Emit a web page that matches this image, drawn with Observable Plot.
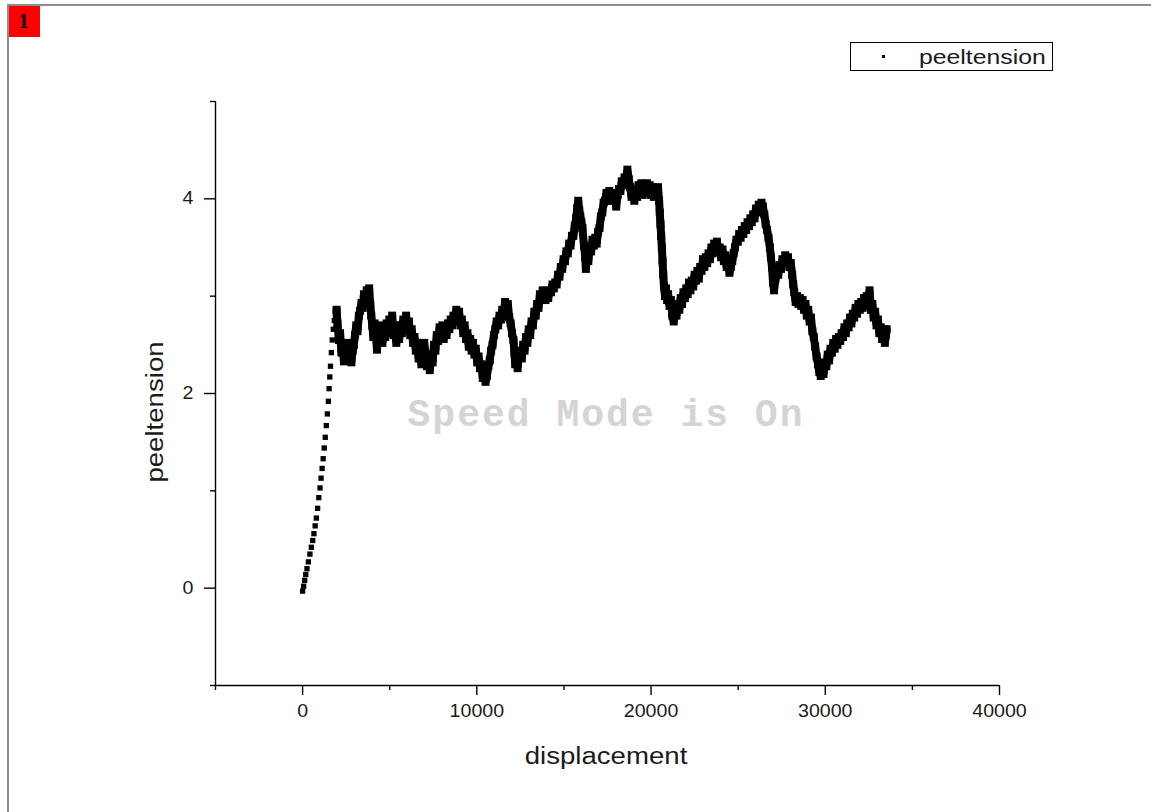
<!DOCTYPE html>
<html><head><meta charset="utf-8">
<script src="https://cdn.jsdelivr.net/npm/d3@7"></script>
<script src="https://cdn.jsdelivr.net/npm/@observablehq/plot@0.6"></script>
<style>
body{margin:0;background:#fff;width:1151px;height:812px;overflow:hidden;position:relative;font-family:"Liberation Sans",Arial,sans-serif;}
#frameTop{position:absolute;left:7px;top:4px;width:1144px;height:2px;background:#8c8c8c}
#frameLeft{position:absolute;left:7px;top:4px;width:2px;height:808px;background:#8c8c8c}
#badge{position:absolute;left:9px;top:6px;width:31px;height:31px;background:#ff0000;color:#000;font:bold 20px "Liberation Serif",serif;text-align:center;line-height:31px;text-indent:-2px}
#chart{position:absolute;left:0;top:0}
#legend{position:absolute;left:850px;top:42px;width:203px;height:29px;border:1px solid #000;box-sizing:border-box;background:#fff}
#legend .mk{position:absolute;left:31px;top:12px;width:3px;height:3px;background:#000}
#legend .tx{position:absolute;left:68px;top:1px;font-size:21px;line-height:25px;color:#1a1a1a;transform-origin:0 50%;transform:scaleX(1.18);white-space:nowrap}
#xtitle{position:absolute;left:606px;top:756px;transform:translate(-50%,-50%) scaleX(1.2);font-size:23px;color:#1a1a1a;white-space:nowrap}
#ytitle{position:absolute;left:155px;top:412px;transform:translate(-50%,-50%) rotate(-90deg) scaleX(1.2);font-size:23px;color:#1a1a1a;white-space:nowrap}
#wm{position:absolute;left:606px;top:415px;transform:translate(-50%,-50%);font:bold 38px "Liberation Mono","Courier New",monospace;letter-spacing:2px;color:#d4d4d4;white-space:nowrap}
</style></head>
<body>
<div id="frameTop"></div><div id="frameLeft"></div>
<div id="badge">1</div>
<div id="chart"></div>
<div id="wm">Speed Mode is On</div>
<div id="legend"><div class="mk"></div><div class="tx">peeltension</div></div>
<div id="xtitle">displacement</div>
<div id="ytitle">peeltension</div>
<script>
const xMajorTicks = [0, 10000, 20000, 30000, 40000];
const xMinorTicks = [-5000, 5000, 15000, 25000, 35000];
const yMajorTicks = [0, 2, 4];
const yMinorTicks = [-1, 1, 3, 5];

const displacement = [
0,60,120,180,250,330,420,500,580,650,720,790,860,930,1000,1060,1120,1180,1240,1300,1360,1420,1480,1520,1560,1600,1650,1700,1760,1820,1880,1950,
2000,2080,2150,2230,2300,2370,2440,2510,2580,2650,2720,2800,2870,2940,3010,3080,3150,3230,3300,3380,3450,3520,3600,3680,3760,3820,3880,3940,4000,4060,4130,4200,4270,4340,4420,4500,4580,4660,4740,4820,4900,4980,5060,5140,5220,5300,5380,5460,5540,5620,5700,5780,5860,5940,6020,6100,6180,6260,6340,6420,6500,6580,6660,6740,6820,6900,6980,7060,7140,7220,7300,7380,7460,7540,7620,7700,7780,7860,7940,8020,8100,8180,8260,8340,8420,8500,8580,8660,8740,8820,8900,8980,9060,9140,9220,9300,9380,9460,9540,9620,9700,9780,9860,9940,10020,10100,10180,10260,10340,10420,10500,10580,10660,10740,10820,10900,10980,11060,11140,11220,11300,11380,11460,11540,11620,11700,11780,11860,11940,12020,12100,12160,12200,12260,12340,12420,12500,12580,12660,12740,12820,12900,12980,13060,13140,13220,13300,13380,13460,13540,13620,13700,13780,13860,13940,14020,14100,14180,14260,14340,14420,14500,14580,14660,14740,14820,14900,14980,15060,15140,15220,15300,15380,15460,15540,15620,15700,15760,15820,15880,15940,16000,16060,
16150,16220,16260,16320,16400,16480,16560,16640,16720,16800,16880,16960,17040,17120,17200,17280,17360,17440,17520,17600,17680,17760,17840,17920,18000,18080,18160,18240,18320,18400,18480,18560,18640,18720,18800,18880,18960,19040,19120,19200,19280,19360,19440,19520,19600,19680,19760,19840,19920,20000,20080,20160,20240,20320,20400,20460,20500,20540,20580,20620,20660,20700,20740,20800,20860,20920,20980,21060,21140,21220,21300,21380,21460,21540,21620,21700,21780,21860,21940,22020,22100,22180,22260,22340,22420,22500,22580,22660,22740,22820,22900,22980,23060,23140,23220,23300,23380,23460,23540,23620,23700,23780,23860,23940,24020,24100,24180,24260,24340,24420,24500,24580,24660,24740,24820,24900,24980,25060,25140,25220,25300,25380,25460,25540,25620,25700,25780,25860,25940,26020,26100,26180,26260,26340,26420,26500,26580,26660,26740,26820,26880,26940,27000,27060,27140,27220,27300,27380,27460,27540,27620,27700,27780,27860,27940,28020,28100,28160,28220,28300,28380,28460,28540,28620,28700,28780,28860,28940,29020,29100,29180,29260,29340,29420,29500,29580,29660,29740,29820,29900,29980,30060,30140,30220,30300,30380,30460,30540,30620,30700,30780,30860,30940,31020,31100,31180,31260,31340,31420,31500,31580,31660,31740,31820,31900,31980,32060,32140,32220,32300,32380,32460,32540,32620,32700,32780,32860,32940,33020,33100,33180,33260,33340,33420,33480,33520
];
const peeltension = [
-0.03,0.02,0.08,0.14,0.2,0.27,0.35,0.42,0.49,0.56,0.64,0.72,0.82,0.93,1.03,1.13,1.23,1.33,1.44,1.55,1.67,1.79,1.92,2.05,2.17,2.28,2.42,2.55,2.66,2.75,2.82,2.86,
2.72,2.55,2.62,2.42,2.50,2.33,2.45,2.38,2.52,2.36,2.48,2.32,2.44,2.50,2.60,2.70,2.64,2.80,2.85,2.93,2.88,3.02,2.95,3.06,2.98,3.08,2.92,2.80,2.70,2.58,2.72,2.60,2.45,2.62,2.55,2.70,2.52,2.66,2.58,2.72,2.62,2.76,2.68,2.80,2.60,2.70,2.52,2.62,2.56,2.70,2.62,2.76,2.68,2.80,2.66,2.74,2.60,2.66,2.52,2.58,2.44,2.52,2.36,2.46,2.30,2.42,2.52,2.40,2.28,2.36,2.24,2.40,2.32,2.50,2.44,2.60,2.54,2.68,2.58,2.70,2.56,2.66,2.60,2.72,2.66,2.76,2.70,2.80,2.74,2.86,2.78,2.84,2.70,2.76,2.62,2.70,2.56,2.62,2.48,2.56,2.44,2.52,2.40,2.46,2.32,2.38,2.26,2.30,2.16,2.22,2.12,2.18,2.28,2.34,2.44,2.50,2.60,2.66,2.74,2.70,2.80,2.76,2.86,2.80,2.94,2.88,2.92,2.78,2.72,2.62,2.55,2.42,2.30,2.38,2.26,2.40,2.44,2.36,2.50,2.44,2.58,2.52,2.66,2.60,2.74,2.70,2.84,2.80,2.92,2.88,3.02,2.96,3.06,2.98,2.96,3.00,2.98,3.06,3.04,3.12,3.08,3.14,3.12,3.22,3.20,3.30,3.28,3.38,3.36,3.46,3.44,3.54,3.52,3.62,3.62,3.72,3.80,3.90,3.98,3.88,3.82,3.76,3.70,
3.52,3.40,3.28,3.42,3.36,3.50,3.46,3.58,3.52,3.60,3.54,3.66,3.70,3.82,3.86,3.96,3.98,4.06,3.98,4.08,4.00,4.06,3.98,4.04,3.92,4.04,4.10,4.08,4.18,4.14,4.22,4.18,4.30,4.20,4.12,4.02,4.10,3.98,4.08,4.02,4.14,4.06,4.16,4.04,4.14,4.06,4.16,4.08,4.14,4.04,4.12,4.02,4.10,4.04,4.12,3.98,3.86,3.74,3.62,3.50,3.36,3.22,3.10,3.00,3.08,2.96,3.02,2.90,2.96,2.80,2.74,2.84,2.80,2.92,2.86,2.98,2.92,3.04,2.98,3.08,3.02,3.14,3.06,3.16,3.10,3.22,3.16,3.26,3.18,3.30,3.26,3.38,3.30,3.40,3.34,3.44,3.38,3.50,3.44,3.54,3.48,3.56,3.46,3.50,3.40,3.48,3.36,3.42,3.30,3.36,3.24,3.30,3.36,3.44,3.50,3.58,3.56,3.64,3.60,3.68,3.64,3.72,3.68,3.76,3.72,3.80,3.76,3.84,3.80,3.90,3.86,3.94,3.90,3.96,3.92,3.84,3.74,3.68,3.60,3.50,3.40,3.30,3.14,3.06,3.18,3.26,3.22,3.32,3.28,3.38,3.34,3.42,3.36,3.40,3.30,3.34,3.22,3.12,3.04,2.94,3.00,2.92,2.98,2.90,2.96,2.86,2.92,2.80,2.86,2.74,2.78,2.64,2.58,2.48,2.38,2.30,2.22,2.18,2.26,2.20,2.32,2.28,2.40,2.34,2.46,2.42,2.52,2.46,2.56,2.50,2.58,2.54,2.62,2.58,2.68,2.62,2.72,2.68,2.78,2.72,2.82,2.78,2.88,2.82,2.92,2.86,2.94,2.88,2.98,2.90,3.00,2.92,3.06,2.86,2.92,2.78,2.84,2.70,2.76,2.62,2.68,2.56,2.64,2.52,2.60,2.66
];
const points = displacement.map((d, i) => ({displacement: d, peeltension: peeltension[i]}));
const ramp = points.filter(p => p.displacement <= 1950);
const band = points.filter(p => p.displacement >= 1950);

const fmt = d => String(d);
const chart = Plot.plot({
  width: 1151, height: 812,
  marginLeft: 215, marginRight: 152, marginTop: 101, marginBottom: 127,
  x: {domain: [-5000, 40000]},
  y: {domain: [-1, 5]},
  style: {fontFamily: "'Liberation Sans', Arial, sans-serif", fontSize: "17.5px", color: "#1a1a1a", background: "transparent", overflow: "visible"},
  marks: [
    Plot.ruleY([-1], {stroke: "#000", strokeWidth: 1.4}),
    Plot.ruleX([-5000], {stroke: "#000", strokeWidth: 1.4}),
    Plot.axisX({ticks: xMajorTicks, tickSize: 10, tickPadding: 9, tickFormat: fmt, label: null, strokeWidth: 1.4, stroke: "#000"}),
    Plot.axisX({ticks: xMinorTicks, tickSize: 5, tickFormat: () => "", label: null, strokeWidth: 1.4, stroke: "#000"}),
    Plot.axisY({ticks: yMajorTicks, tickSize: 11, tickPadding: 11, tickFormat: fmt, label: null, strokeWidth: 1.4, stroke: "#000"}),
    Plot.axisY({ticks: yMinorTicks, tickSize: 5, tickFormat: () => "", label: null, strokeWidth: 1.4, stroke: "#000"}),
    Plot.dot(ramp, {x: "displacement", y: "peeltension", symbol: "square", r: 3, fill: "#000", stroke: "none"}),
    Plot.line(band, {x: "displacement", y: "peeltension", stroke: "#000", strokeWidth: 8, strokeLinejoin: "bevel"}),
    Plot.dot(band, {x: "displacement", y: "peeltension", symbol: "square", r: 4.5, fill: "#000", stroke: "none"})
  ]
});
document.getElementById("chart").appendChild(chart);
chart.querySelectorAll("g[aria-label$='tick label'] text").forEach(t => {
  const len = t.getComputedTextLength();
  if (len > 0) { t.setAttribute("textLength", (len * 1.12).toFixed(1)); t.setAttribute("lengthAdjust", "spacingAndGlyphs"); }
});
</script>
</body></html>
